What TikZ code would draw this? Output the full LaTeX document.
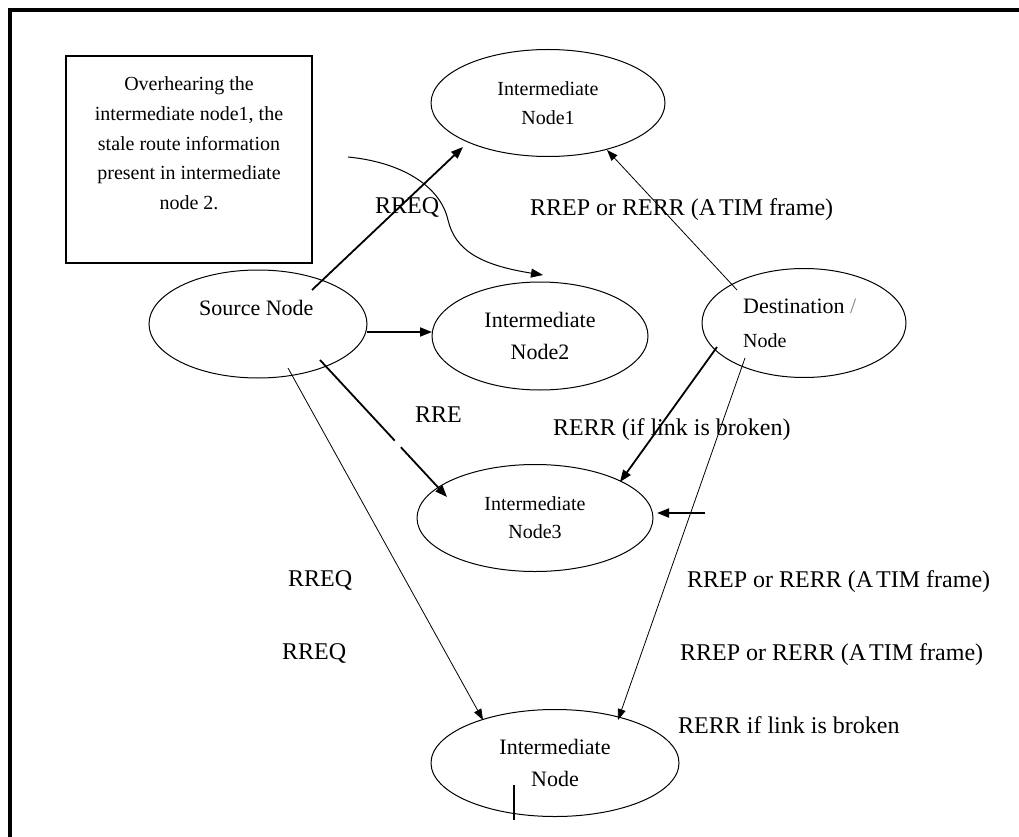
\documentclass[tikz,border=0pt]{standalone}
\usepackage{fontspec}
\setmainfont{Liberation Serif}
\usetikzlibrary{arrows.meta,shapes.geometric,calc}
\begin{document}
\begin{tikzpicture}[x=1pt,y=-1pt,
  ell/.style={draw, ellipse, line width=1pt, inner sep=0pt, align=center},
  lbl/.style={anchor=base west, inner sep=0pt, font=\fontsize{24}{28}\selectfont},
  txt/.style={anchor=base west, inner sep=0pt},
  thk/.style={line width=1.8pt, -{Triangle[length=12pt,width=9pt]}},
  thn/.style={line width=0.8pt, -{Triangle[length=11pt,width=8pt]}},
]
\useasboundingbox (0,0) rectangle (1019,837);
\fill[white] (0,0) rectangle (1019,837);
% frame
\draw[line width=4pt] (10,840) -- (10,10) -- (1022,10);

% note box
\node[draw, line width=1.2pt, minimum width=246pt, minimum height=207pt, inner sep=0pt] (box) at (189,159.5) {};
\node[align=center, inner sep=0pt, font=\fontsize{20}{29.7}\selectfont] (boxtxt) at (189,143.5)
  {Overhearing the\\ intermediate node1, the\\ stale route information\\ present in intermediate\\ node 2.};

% ellipses
\node[ell, minimum width=234pt, minimum height=107pt, font=\fontsize{20}{29}\selectfont] (n1) at (548,103) {Intermediate\\ Node1};
\node[ell, minimum width=218pt, minimum height=108pt] (src) at (258,324) {};
\node[txt, font=\fontsize{22}{26}\selectfont] (srctxt) at (199,315) {Source Node};
\node[ell, minimum width=216pt, minimum height=108pt, font=\fontsize{22}{32}\selectfont] (n2) at (540,336) {Intermediate\\ Node2};
\node[ell, minimum width=204pt, minimum height=109pt] (dst) at (804,323) {};
\node[txt, font=\fontsize{22}{26}\selectfont] (dsttxt1) at (743,313) {Destination {\color{gray}/}};
\node[txt, font=\fontsize{20}{24}\selectfont] (dsttxt2) at (743,347) {Node};
\node[ell, minimum width=236pt, minimum height=107pt, font=\fontsize{20}{28}\selectfont] (n3) at (535,518) {Intermediate\\ Node3};
\node[ell, minimum width=248pt, minimum height=107pt, font=\fontsize{22}{32}\selectfont] (n4) at (555,763) {Intermediate\\ Node};

% labels
\node[lbl] (l1) at (375,213) {RREQ};
\node[lbl] (l2) at (530,215) {RREP or RERR (A\kern3pt TIM frame)};
\node[lbl] (l3) at (415,422) {RRE};
\node[lbl] (l4) at (553,435) {RERR (if link is broken)};
\node[lbl] (l5) at (288,586) {RREQ};
\node[lbl] (l6) at (282,659) {RREQ};
\node[lbl] (l7) at (687,587) {RREP or RERR (A\kern3pt TIM frame)};
\node[lbl] (l8) at (680,660) {RREP or RERR (A\kern3pt TIM frame)};
\node[lbl] (l9) at (678,733) {RERR if link is broken};

% connectors
\draw[thk] ($(src.center)+(54,-34)$) -- ($(n1.center)+(-85,44)$);
\draw[thn] ($(dst.center)+(-67,-33)$) -- ($(n1.center)+(59,47)$);
\coordinate (c0) at (348,157);
\draw[line width=1pt, -{Triangle[length=12pt,width=9pt]}] (c0) .. controls (400,162) and (440,185) .. (448,220)
   .. controls (455,250) and (480,265) .. ($(n2.center)+(3,-61)$);
\draw[thk] ($(src.center)+(109,8)$) -- ($(n2.center)+(-108,-4)$);
\draw[thk, dash pattern=on 110pt off 9pt on 300pt off 0pt] ($(src.center)+(62,36)$) -- ($(n3.center)+(-88,-21)$);
\draw[thn] ($(src.center)+(30,44)$) -- ($(n4.center)+(-72,-43)$);
\draw[thk] ($(dst.center)+(-87,24)$) -- ($(n3.center)+(85,-36)$);
\draw[thn] ($(dst.center)+(-59,35)$) -- ($(n4.center)+(63,-43)$);
\coordinate (a0) at (705,513);
\draw[thk] (a0) -- ($(n3.center)+(122,-5)$);
\draw[line width=2pt] ($(n4.center)+(-41,22)$) -- ($(n4.center)+(-41,57)$);
\end{tikzpicture}
\end{document}
